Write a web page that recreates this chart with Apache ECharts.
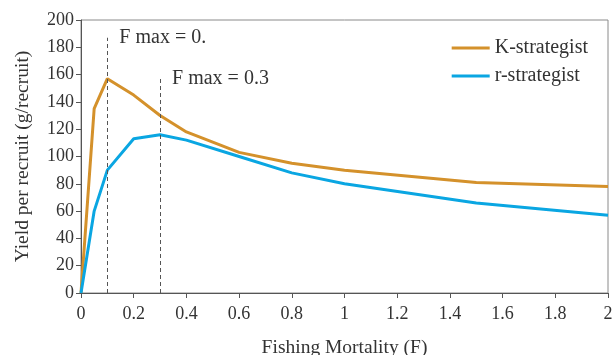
<!DOCTYPE html>
<html>
<head>
<meta charset="utf-8">
<script src="https://cdn.jsdelivr.net/npm/echarts@6/dist/echarts.min.js"></script>
<style>
  html, body { margin: 0; padding: 0; background: #fff; }
  #chart { width: 613px; height: 355px; }
</style>
</head>
<body>
<div id="chart"></div>
<script>
// === ДАННЫЕ ===
const fishingMortality = [0, 0.05, 0.1, 0.2, 0.3, 0.4, 0.6, 0.8, 1.0, 1.5, 2.0];
const kStrategist = [0, 135, 157, 145, 130, 118, 103, 95, 90, 81, 78];
const rStrategist = [0, 60, 90, 113, 116, 112, 100, 88, 80, 66, 57];
const fmaxX = [0.1, 0.3];
const fmaxTop = [187, 158];
const fmaxLabels = ['F max = 0.', 'F max = 0.3'];

const FONT = 'Liberation Serif';
const TEXT = '#333';
const labelOffsets = [[12, 5], [12, 6]];

function pairs(xs, ys) {
    return xs.map((x, i) => [x, ys[i]]);
}

const chart = echarts.init(document.getElementById('chart'));

const fmaxLines = fmaxX.map((x, i) => [
    { coord: [x, 0] },
    {
        coord: [x, fmaxTop[i]],
        label: {
            show: true,
            position: 'end',
            formatter: fmaxLabels[i],
            align: 'left',
            verticalAlign: 'middle',
            offset: labelOffsets[i],
            fontFamily: FONT,
            fontSize: 20,
            color: TEXT
        }
    }
]);

chart.setOption({
    animation: false,
    textStyle: { fontFamily: FONT },
    grid: {
        left: 81, right: 5, top: 20, bottom: 62,
        outerBoundsMode: 'none',
        containLabel: false,
        show: true, borderColor: '#8a8a8a', borderWidth: 1
    },
    legend: {
        right: 20, top: 33,
        orient: 'vertical',
        itemWidth: 38, itemHeight: 3,
        itemGap: 8,
        icon: 'rect',
        textStyle: { fontFamily: FONT, fontSize: 20, color: TEXT }
    },
    xAxis: {
        type: 'value',
        min: 0, max: 2, interval: 0.2,
        name: 'Fishing Mortality (F)',
        nameLocation: 'middle',
        nameGap: 45,
        nameTextStyle: { fontFamily: FONT, fontSize: 19.5, color: TEXT },
        axisLine: { lineStyle: { color: '#555' } },
        axisTick: { show: true, length: 5, lineStyle: { color: '#555' } },
        axisLabel: { fontFamily: FONT, fontSize: 18, color: TEXT, margin: 12 },
        splitLine: { show: false }
    },
    yAxis: {
        type: 'value',
        min: 0, max: 200, interval: 20,
        name: 'Yield per recruit (g/recruit)',
        nameLocation: 'middle',
        nameGap: 48,
        nameTextStyle: { fontFamily: FONT, fontSize: 19.5, color: TEXT },
        axisLine: { show: true, lineStyle: { color: '#555' } },
        axisTick: { show: true, length: 5, lineStyle: { color: '#555' } },
        axisLabel: { fontFamily: FONT, fontSize: 18, color: TEXT, margin: 7 },
        splitLine: { show: false }
    },
    series: [
        {
            name: 'K-strategist',
            type: 'line',
            data: pairs(fishingMortality, kStrategist),
            showSymbol: false,
            color: '#D4912B',
            lineStyle: { width: 3, color: '#D4912B' },
            z: 3,
            markLine: {
                silent: true,
                symbol: 'none',
                lineStyle: { type: [4, 3], color: '#555', width: 1 },
                data: fmaxLines
            }
        },
        {
            name: 'r-strategist',
            type: 'line',
            data: pairs(fishingMortality, rStrategist),
            showSymbol: false,
            color: '#0AA6E2',
            lineStyle: { width: 3, color: '#0AA6E2' },
            z: 4
        }
    ]
});
</script>
</body>
</html>
